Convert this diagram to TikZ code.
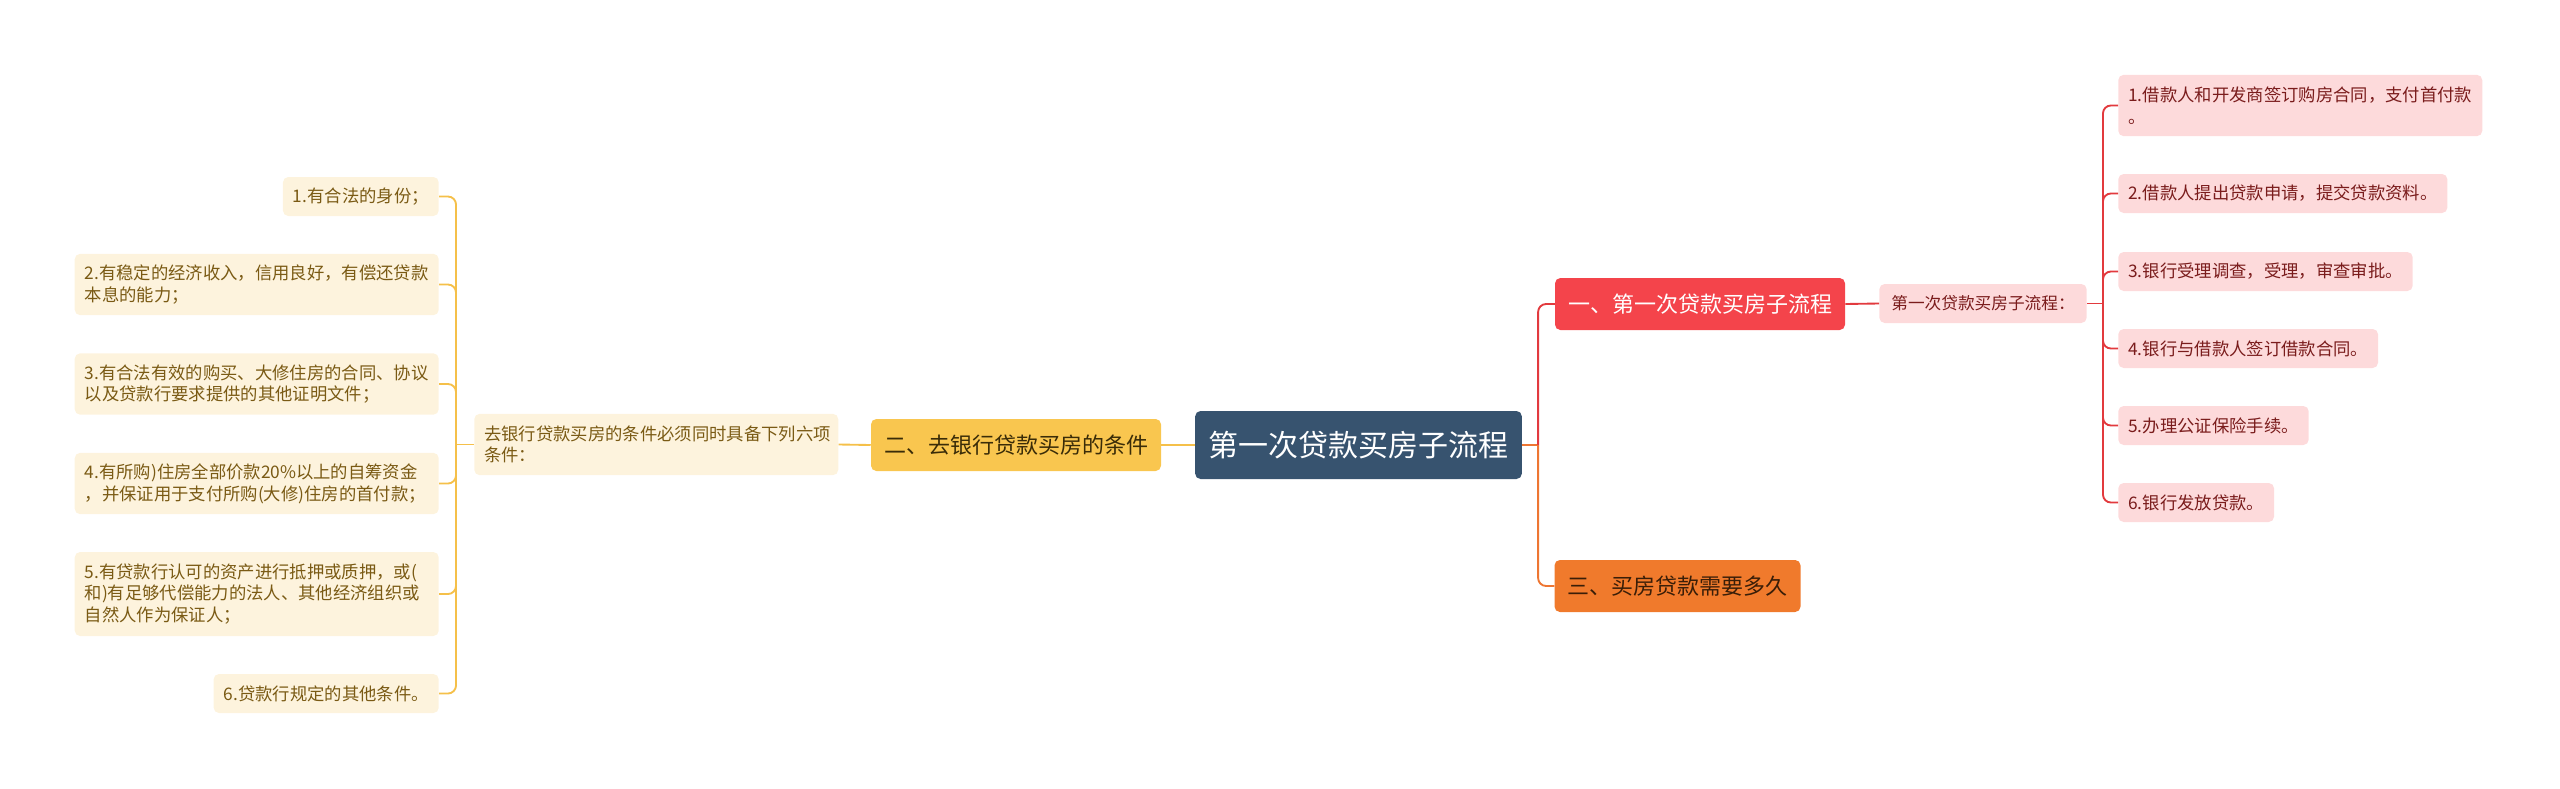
\documentclass[tikz,border=0pt]{standalone}
\usepackage{fontspec}
\setmainfont{Noto Sans CJK SC}
\definecolor{rootfill}{HTML}{37536F}
\definecolor{yfill}{HTML}{F9C64F}
\definecolor{ytext}{HTML}{3A2C08}
\definecolor{cream}{HTML}{FDF3DD}
\definecolor{browntext}{HTML}{7A5A14}
\definecolor{yline}{HTML}{F5C04A}
\definecolor{redfill}{HTML}{F4444B}
\definecolor{orangefill}{HTML}{F07A2C}
\definecolor{orangetext}{HTML}{3A1E08}
\definecolor{pinkfill}{HTML}{FDDADB}
\definecolor{darkredtext}{HTML}{7A1C1C}
\definecolor{rline}{HTML}{E23A3E}
\definecolor{oline}{HTML}{EE7632}
\begin{document}
\begin{tikzpicture}[x=0.75pt,y=-0.75pt,
  rootbox/.style={fill=rootfill,rounded corners=4pt,text=white,font=\fontsize{22.5}{27}\selectfont,inner xsep=10pt,minimum height=51pt},
  mainbox/.style={rounded corners=4pt,font=\fontsize{16.5}{20}\selectfont,inner xsep=9.75pt,minimum height=39pt},
  lleaf/.style={fill=cream,rounded corners=4pt,text=browntext,font=\fontsize{13}{16.3}\selectfont,inner xsep=7.5pt,align=left},
  rleaf/.style={fill=pinkfill,rounded corners=4pt,text=darkredtext,font=\fontsize{13}{16.3}\selectfont,inner xsep=7.5pt,align=left},
  oneline/.style={minimum height=29.25pt},
  twoline/.style={minimum height=46pt},
  threeline/.style={minimum height=63pt},
  yl/.style={draw=yline,line width=1.4pt},
  rl/.style={draw=rline,line width=1.4pt},
  ol/.style={draw=oline,line width=1.4pt},
]
\useasboundingbox (0,0) rectangle (2560,789);

% centre
\node[rootbox] (root) at (1358.5,445) {第一次贷款买房子流程};

% left branch
\node[mainbox,fill=yfill,text=ytext] (cond) at (1016,445) {二、去银行贷款买房的条件};
\node[lleaf,anchor=west,text width=258pt,twoline] (lsub) at (474,444.5) {去银行贷款买房的条件必须同时具备下列六项\\条件：};
\node[lleaf,anchor=east,oneline] (l1) at (439,196.5) {1.有合法的身份；};
\node[lleaf,anchor=east,text width=258pt,twoline] (l2) at (439,284.5) {2.有稳定的经济收入，信用良好，有偿还贷款\\本息的能力；};
\node[lleaf,anchor=east,text width=258pt,twoline] (l3) at (439,384) {3.有合法有效的购买、大修住房的合同、协议\\以及贷款行要求提供的其他证明文件；};
\node[lleaf,anchor=east,text width=258pt,twoline] (l4) at (439,483.5) {4.有所购)住房全部价款20\%以上的自筹资金\\，并保证用于支付所购(大修)住房的首付款；};
\node[lleaf,anchor=east,text width=258pt,threeline] (l5) at (439,594) {5.有贷款行认可的资产进行抵押或质押，或(\\和)有足够代偿能力的法人、其他经济组织或\\自然人作为保证人；};
\node[lleaf,anchor=east,oneline] (l6) at (439,693.5) {6.贷款行规定的其他条件。};

% right branch
\node[mainbox,fill=redfill,text=white] (first) at (1700,304) {一、第一次贷款买房子流程};
\node[mainbox,fill=orangefill,text=orangetext] (third) at (1677.5,586) {三、买房贷款需要多久};
\node[rleaf,oneline,inner xsep=9pt,font=\fontsize{12.5}{16}\selectfont] (rsub) at (1983,303.5) {第一次贷款买房子流程：};
\node[rleaf,anchor=west,text width=258pt,twoline] (p1) at (2118,105.5) {1.借款人和开发商签订购房合同，支付首付款\\。};
\node[rleaf,anchor=west,oneline] (p2) at (2118,193.5) {2.借款人提出贷款申请，提交贷款资料。};
\node[rleaf,anchor=west,oneline] (p3) at (2118,271.5) {3.银行受理调查，受理，审查审批。};
\node[rleaf,anchor=west,oneline] (p4) at (2118,348.5) {4.银行与借款人签订借款合同。};
\node[rleaf,anchor=west,oneline] (p5) at (2118,425.5) {5.办理公证保险手续。};
\node[rleaf,anchor=west,oneline] (p6) at (2118,502.5) {6.银行发放贷款。};

% left connectors
\draw[yl] (root.west) -- (cond.east);
\draw[yl] (cond.west) -- (lsub.east);
\coordinate (lj) at ([xshift=-13.5pt]lsub.west);
\draw[yl] (lsub.west) -- (lj);
\foreach \n in {l1,l2,l3,l4,l5,l6}
  \draw[yl,rounded corners=6pt] (lj) |- (\n.east);

% right connectors
\coordinate (rj) at ([xshift=12pt]root.east);
\draw[ol] (root.east) -- (rj);
\draw[rl,rounded corners=6pt] (rj) |- (first.west);
\draw[ol,rounded corners=6pt] (rj) |- (third.west);
\draw[rl] (first.east) -- (rsub.west);
\coordinate (pj) at ([xshift=12pt]rsub.east);
\draw[rl] (rsub.east) -- (pj);
\foreach \n in {p1,p2,p3,p4,p5,p6}
  \draw[rl,rounded corners=6pt] (pj) |- (\n.west);
\end{tikzpicture}
\end{document}
